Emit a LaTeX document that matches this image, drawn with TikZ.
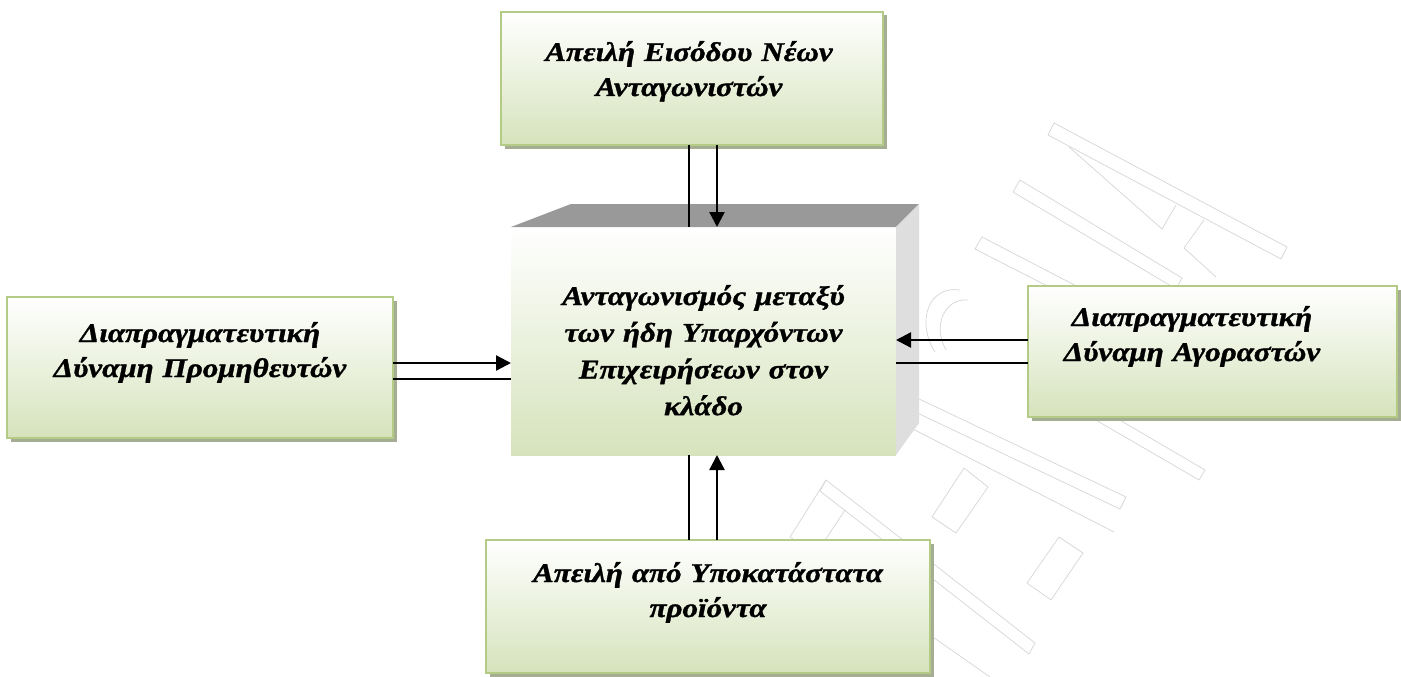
\documentclass[tikz,border=0pt]{standalone}
\usepackage{fontspec}
\setmainfont[FakeStretch=1.15,FakeBold=1.2]{Liberation Serif}
\usetikzlibrary{arrows.meta,shadows}

\definecolor{boxgreen}{RGB}{214,227,188}
\definecolor{boxedge}{RGB}{180,203,134}
\definecolor{boxshadow}{RGB}{165,174,146}
\definecolor{topface}{RGB}{153,153,153}
\definecolor{sideface}{RGB}{222,222,222}
\definecolor{markline}{RGB}{214,214,214}

\begin{document}
\begin{tikzpicture}[x=1pt,y=-1pt,
  force/.style={draw=boxedge, line width=1.5pt, top color=white, bottom color=boxgreen,
    drop shadow={shadow xshift=3.5pt, shadow yshift=-3.5pt, fill=boxshadow, opacity=1},
    inner sep=0pt, outer sep=0pt},
  label text/.style={anchor=base, inner sep=0pt, align=center, text width=#1,
    font=\bfseries\itshape\fontsize{27}{35}\selectfont},
  plainlink/.style={line width=1.8pt},
  arrowlink/.style={line width=2.3pt, -{Triangle[length=15pt,width=15pt]}},
  logoline/.style={draw=markline, line width=0.7pt, double=white, double distance=2pt, line join=round}
]
% canvas
\fill[white] (0,0) rectangle (1401,677);
\useasboundingbox (0,0) rectangle (1401,677);

% faint outlined logo in the background
\begin{scope}[logoline]
  \draw (1054,123) -- (1287,247) -- (1281,259) -- (1048,135) -- cycle;
  \draw (1069,147) -- (1162,229) -- (1176,205);
  \draw (1020,180) -- (1182,278) -- (1176,289) -- (1013,192) -- cycle;
  \draw (982,237) -- (1190,345) -- (1184,356) -- (975,249) -- cycle;
  \draw (1204,220) -- (1184,248) -- (1216,277);
  \draw (960,290) .. controls (930,285) and (915,320) .. (935,352);
  \draw (968,300) .. controls (945,298) and (932,325) .. (946,350);
  \draw (917,398) -- (1126,497) -- (1120,509) -- (911,410) -- cycle;
  \draw (905,425) -- (1114,532);
  \draw (964,468) -- (988,487) -- (956,533) -- (932,517) -- cycle;
  \draw (1059,537) -- (1083,553) -- (1051,600) -- (1027,583) -- cycle;
  \draw (826,480) -- (1035,643) -- (1029,654) -- (820,491) -- cycle;
  \draw (826,480) -- (790,537);
  \draw (845,510) -- (812,560);
  \draw (790,537) -- (990,677);
  \draw (1065,388) -- (1205,470) -- (1199,480) -- (1058,398) -- cycle;
  \draw (742,600) -- (900,677);
  \draw (760,570) -- (720,640);
\end{scope}

% central block: front face with bevelled top and right faces
\node[inner sep=0pt, outer sep=0pt, minimum width=385pt, minimum height=228pt,
      top color=white, bottom color=boxgreen] (core) at (703.5,341) {};
\fill[topface] (core.north west) -- (571,204) -- (919,204) -- (core.north east) -- cycle;
\fill[sideface] (core.north east) -- (919,204) -- (919,423) -- (core.south east) -- cycle;
\node[label text=380pt, font=\bfseries\itshape\fontsize{27}{36.7}\selectfont] (coretext) at (703.5,305)
  {Ανταγωνισμός μεταξύ\\των ήδη Υπαρχόντων\\Επιχειρήσεων στον\\κλάδο};

% the four surrounding forces
\node[force, minimum width=382pt, minimum height=133pt] (entry) at (692,78.5) {};
\node[label text=380pt] (entrytext) at (689,61) {Απειλή Εισόδου Νέων\\Ανταγωνιστών};

\node[force, minimum width=386pt, minimum height=141pt] (supp) at (200,367.5) {};
\node[label text=380pt] (supptext) at (200,342) {Διαπραγματευτική\\Δύναμη Προμηθευτών};

\node[force, minimum width=369pt, minimum height=131pt] (buy) at (1212.5,351.5) {};
\node[label text=360pt] (buytext) at (1192,326) {Διαπραγματευτική\\Δύναμη Αγοραστών};

\node[force, minimum width=444pt, minimum height=133pt] (subst) at (708,606.5) {};
\node[label text=440pt] (substtext) at (708,582) {Απειλή από Υποκατάστατα\\προϊόντα};

% attachment points on the central block
\coordinate (cn1) at ([xshift=-14.5pt]core.north);
\coordinate (cn2) at ([xshift=13.5pt]core.north);
\coordinate (cs1) at ([xshift=-14.5pt]core.south);
\coordinate (cs2) at ([xshift=13.5pt]core.south);
\coordinate (cw1) at ([yshift=-22pt]core.west);
\coordinate (cw2) at ([yshift=-38pt]core.west);
\coordinate (ce1) at ([yshift=1pt]core.east);
\coordinate (ce2) at ([yshift=-22pt]core.east);

% connectors
\draw[plainlink] (cn1 |- entry.south) -- (cn1);
\draw[arrowlink] (cn2 |- entry.south) -- (cn2);

\draw[plainlink] (cs1) -- (cs1 |- subst.north);
\draw[arrowlink] (cs2 |- subst.north) -- (cs2);

\draw[arrowlink] (cw1 -| supp.east) -- (cw1);
\draw[plainlink] (cw2 -| supp.east) -- (cw2);

\draw[arrowlink] (ce1 -| buy.west) -- (ce1);
\draw[plainlink] (ce2 -| buy.west) -- (ce2);
\end{tikzpicture}
\end{document}
